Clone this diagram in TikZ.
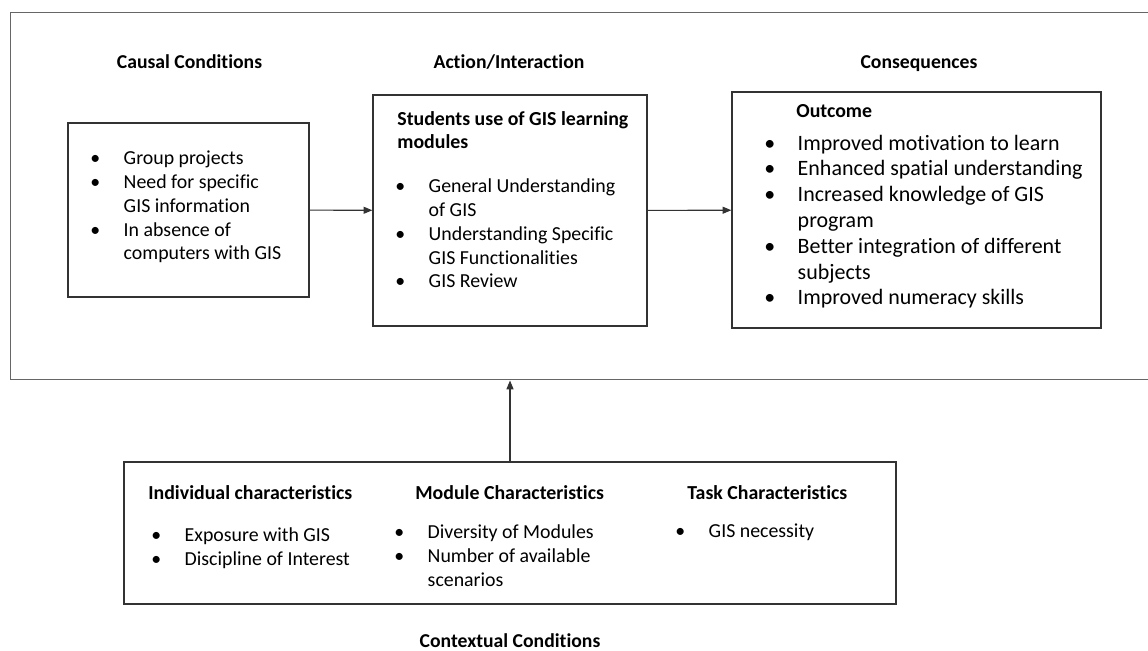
\documentclass[tikz,border=0pt]{standalone}
\usepackage{fontspec}
\setmainfont{Carlito}[Ligatures=NoCommon]
\usetikzlibrary{arrows.meta, positioning}

\tikzset{
  box/.style={draw=black!80, line width=0.8pt, inner sep=0pt},
  heading/.style={font=\fontsize{11.2}{13.6}\selectfont\bfseries, anchor=base, inner sep=0pt},
  list/.style={font=\fontsize{11.3}{13.6}\selectfont, align=left, anchor=base west, inner sep=0pt},
  boldlist/.style={list, font=\fontsize{11.3}{13.2}\selectfont\bfseries},
  biglist/.style={list, font=\fontsize{12.5}{14.7}\selectfont},
  flow/.style={-{Triangle[length=5pt,width=4pt]}, line width=0.6pt, black!80},
}
\newcommand{\itm}{\makebox[19pt][l]{\textbullet}}
\newcommand{\cont}{\hspace*{19pt}}

\begin{document}
\begin{tikzpicture}[x=0.02cm, y=-0.02cm]
  \useasboundingbox (0,0) rectangle (1148,651);

  % Outer frame
  \node[box, draw=black!60, line width=0.6pt, minimum width=23cm, minimum height=7.36cm] (frame) at (585,196) {};

  % Column headings
  \node[heading] (hcausal) at (189.5,69) {Causal Conditions};
  \node[heading] (haction) at (509,69) {Action/Interaction};
  \node[heading] (hconseq) at (919,69) {Consequences};

  % Causal conditions (base = last line)
  \node[box, minimum width=4.82cm, minimum height=3.48cm] (causal) at (188.5,210) {};
  \node[list] (causaltxt) at (90,260) {\itm Group projects\\ \itm Need for specific\\ \cont GIS information\\ \itm In absence of\\ \cont computers with GIS};

  % Action / interaction
  \node[box, minimum width=5.48cm, minimum height=4.62cm] (action) at (510,210.5) {};
  \node[boldlist] (actiontitle) at (397,149) {Students use of GIS learning\\modules};
  \node[list] (actiontxt) at (395,288) {\itm General Understanding\\ \cont of GIS\\ \itm Understanding Specific\\ \cont GIS Functionalities\\ \itm GIS Review};

  % Consequences
  \node[box, minimum width=7.38cm, minimum height=4.72cm] (outcome) at (916.5,210) {};
  \node[boldlist] (outcometitle) at (796,118) {Outcome};
  \node[biglist] (outcometxt) at (764,305) {\itm Improved motivation to learn\\ \itm Enhanced spatial understanding\\ \itm Increased knowledge of GIS\\ \cont program\\ \itm Better integration of different\\ \cont subjects\\ \itm Improved numeracy skills};

  % Contextual conditions
  \node[box, minimum width=15.44cm, minimum height=2.84cm] (context) at (510,533) {};
  \node[boldlist] (hindiv) at (148,499) {Individual characteristics};
  \node[boldlist] (hmodule) at (415,499) {Module Characteristics};
  \node[boldlist] (htask) at (687,499) {Task Characteristics};
  \node[list] (indivtxt) at (151,565) {\itm Exposure with GIS\\ \itm Discipline of Interest};
  \node[list] (moduletxt) at (394,586) {\itm Diversity of Modules\\ \itm Number of available\\ \cont scenarios};
  \node[list] (tasktxt) at (675,537) {\itm GIS necessity};
  \node[heading] (hcontext) at (510,647) {Contextual Conditions};

  % Arrows
  \draw[flow] (causal) -- (action);
  \draw[flow] (action) -- (outcome);
  \draw[flow] (context.north) -- (context.north |- frame.south);
\end{tikzpicture}
\end{document}
